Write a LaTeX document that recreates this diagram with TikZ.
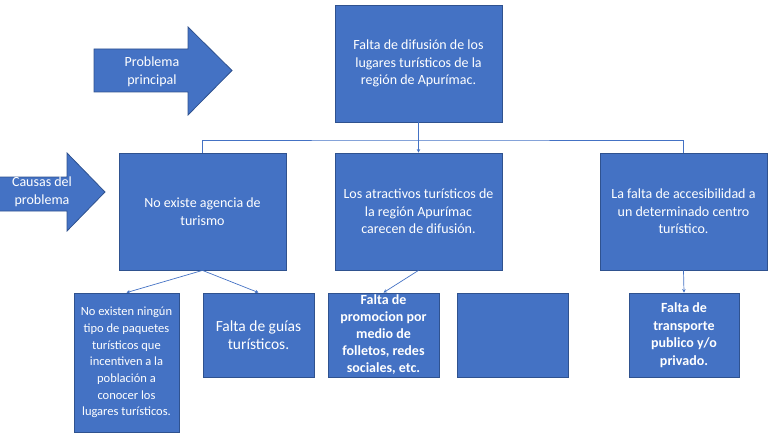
\documentclass[tikz,border=0pt]{standalone}
\usepackage{fontspec}
\setmainfont{Carlito}
\usetikzlibrary{arrows.meta}

\definecolor{azul}{HTML}{4472C4}
\definecolor{borde}{HTML}{2F528F}

\tikzset{
  caja/.style={draw=borde, fill=azul, line width=0.8pt, text=white, align=center,
    inner sep=0pt, font=\fontsize{14}{17.5}\selectfont},
  grande/.style={caja, minimum width=167pt, minimum height=117pt},
  chica/.style={caja, minimum width=111pt, minimum height=84pt},
  rotulo/.style={text=white, align=center, font=\fontsize{14}{17.5}\selectfont},
  conector/.style={draw=azul, line width=0.7pt},
  flecha/.style={conector, -{Stealth[length=3.5pt,width=3.5pt]}}
}

\begin{document}
\begin{tikzpicture}[x=1pt,y=-1pt]
\useasboundingbox (0,0) rectangle (768,433);

% flechas de la izquierda
\filldraw[draw=borde, fill=azul, line width=0.8pt]
  (94,49) -- (188,49) -- (188,27) -- (232,70.5) -- (188,115) -- (188,92) -- (94,92) -- cycle;
\node[rotulo] (txtprincipal) at (152,72) {Problema\\principal};

\filldraw[draw=borde, fill=azul, line width=0.8pt]
  (-1,177) -- (67,177) -- (67,153) -- (105,192) -- (67,231) -- (67,211) -- (-1,211) -- cycle;
\node[rotulo] (txtcausas) at (42,192) {Causas del\\problema};

% problema principal
\node[grande] (problema) at (418.5,63.5) {Falta de difusión de los\\lugares turísticos de la\\región de Apurímac.};

% causas
\node[grande] (causa1) at (202.5,211.5) {No existe agencia de\\turismo};
\node[grande] (causa2) at (418.5,211.5) {Los atractivos turísticos de\\la región Apurímac\\carecen de difusión.};
\node[grande] (causa3) at (683.5,211.5) {La falta de accesibilidad a\\un determinado centro\\turístico.};

% efectos
\node[caja, minimum width=105pt, minimum height=139pt, font=\fontsize{12.5}{16.7}\selectfont]
  (efecto1) at (126.5,362.5) {No existen ningún\\tipo de paquetes\\turísticos que\\incentiven a la\\población a\\conocer los\\lugares turísticos.};
\node[chica, font=\fontsize{15.5}{18}\selectfont] (efecto2) at (258.5,335) {Falta de guías\\turísticos.};
\node[chica, font=\bfseries\fontsize{14}{17}\selectfont] (efecto3) at (383.5,335) {Falta de\\promocion por\\medio de\\folletos, redes\\sociales, etc.};
\node[chica] (efecto4) at (512.5,335) {};
\node[chica, minimum width=110pt, font=\bfseries\fontsize{14}{17.5}\selectfont] (efecto5) at (684,335) {Falta de\\transporte\\publico y/o\\privado.};

% conectores
\coordinate (bus) at (418.5,140);
\draw[flecha] (problema.south) -- (causa2.north);
\draw[conector] (causa1.north) |- (bus) -| (causa3.north);
\draw[flecha] (causa1.south) -- (efecto1.north);
\draw[flecha] (causa1.south) -- (efecto2.north);
\draw[flecha] (causa2.south) -- (efecto3.north);
\draw[flecha] (causa3.south) -- (efecto5.north);
\end{tikzpicture}
\end{document}
